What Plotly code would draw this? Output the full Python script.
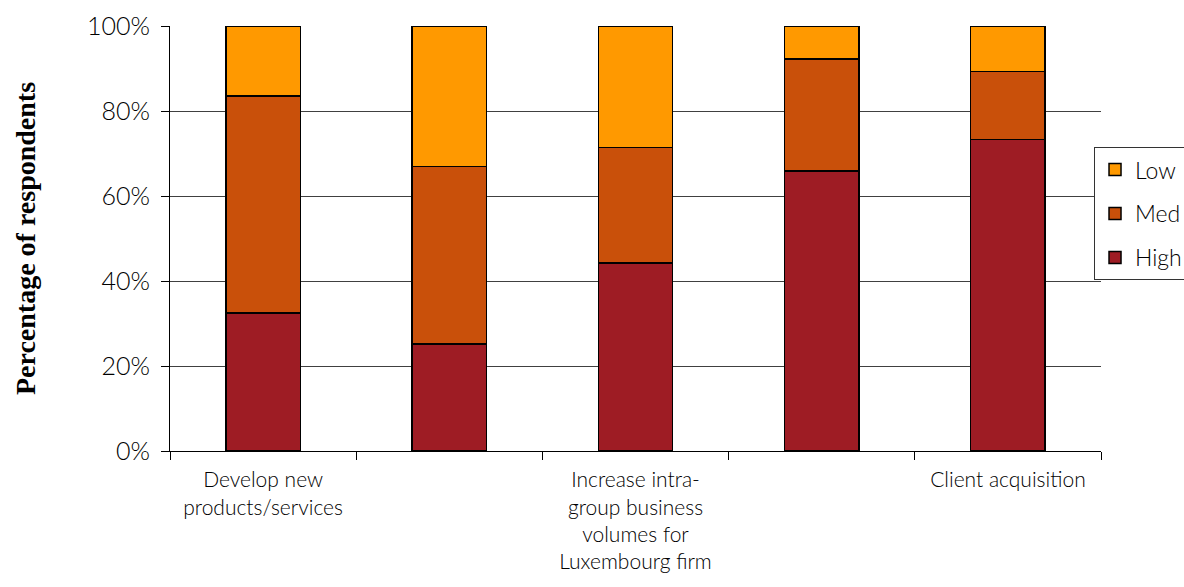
import plotly.graph_objects as go

categories = [
    "Develop new products/services",
    "Category 2 (unlabelled)",
    "Increase intra-group business volumes for Luxembourg firm",
    "Category 4 (unlabelled)",
    "Client acquisition",
]
tick_labels = [
    "Develop new<br>products/services",
    "",
    "Increase intra-<br>group business<br>volumes for<br>Luxembourg firm",
    "",
    "Client acquisition",
]
high = [32.5, 25.2, 44.2, 65.9, 73.3]
med = [51.0, 41.7, 27.2, 26.3, 16.0]
low = [16.5, 33.1, 28.6, 7.8, 10.7]

colors = {"High": "#9E1C24", "Med": "#C9500A", "Low": "#FF9900"}
legend_rank = {"Low": 1, "Med": 2, "High": 3}

fig = go.Figure()
for name, vals in [("High", high), ("Med", med), ("Low", low)]:
    fig.add_trace(go.Bar(
        x=categories, y=vals, name=name, legendgroup=name,
        legendrank=legend_rank[name],
        marker=dict(color=colors[name], line=dict(color="black", width=1.5)),
    ))

fig.update_layout(
    barmode="stack",
    bargap=0.6,
    width=1184, height=587,
    margin=dict(l=170, r=83, t=26, b=136, autoexpand=False),
    plot_bgcolor="white", paper_bgcolor="white",
    font=dict(family="Lato", size=21, color="black", weight=300),
    legend=dict(
        x=0.9925, y=0.715, xanchor="left", yanchor="top",
        traceorder="grouped", tracegroupgap=11,
        bordercolor="#333333", borderwidth=1, bgcolor="white",
        font=dict(family="Lato", size=23, weight=300, color="black"),
        itemwidth=30,
    ),
    showlegend=True,
)
fig.update_xaxes(
    type="category",
    tickmode="array", tickvals=categories, ticktext=tick_labels,
    tickson="boundaries", ticks="outside", ticklen=8, tickcolor="black",
    ticklabelstandoff=10,
    showline=True, linecolor="black", linewidth=1,
    showgrid=False,
    tickfont=dict(family="Lato", size=21, weight=300, color="black"),
    tickangle=0,
)
fig.update_yaxes(
    range=[0, 100], dtick=20, ticksuffix="%",
    ticks="outside", ticklen=8, tickcolor="black",
    ticklabelstandoff=6,
    showline=True, linecolor="black", linewidth=1,
    showgrid=True, gridcolor="#404040", gridwidth=1,
    zeroline=False,
    tickfont=dict(family="Lato", size=25, weight=300, color="black"),
    title=dict(text="<b>Percentage of respondents</b>" + "\u00a0" * 5,
               font=dict(family="Liberation Serif", size=28, color="black"),
               standoff=43),
)

fig.write_html("out.html")
